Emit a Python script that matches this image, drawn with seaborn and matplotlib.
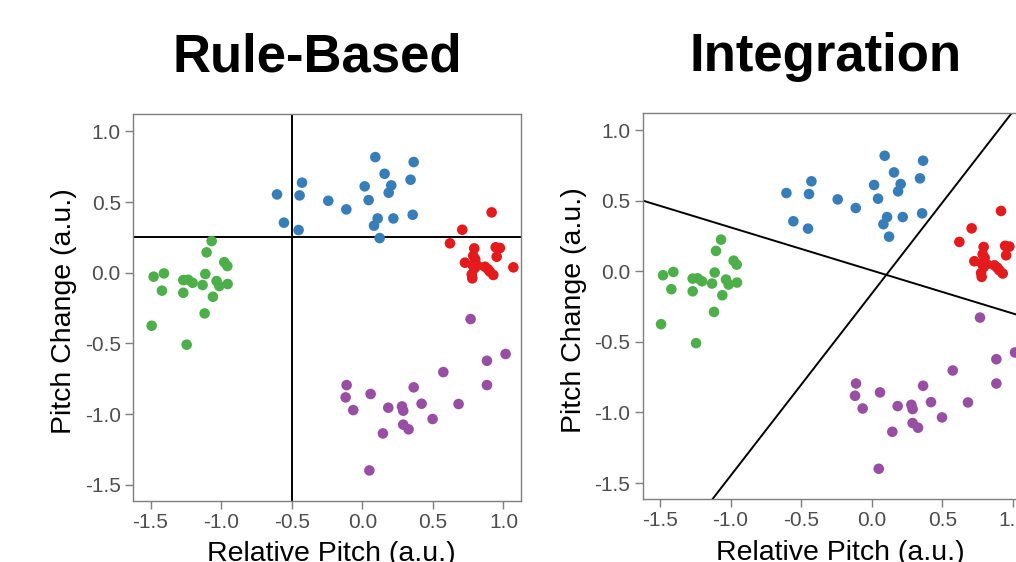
import matplotlib
matplotlib.use("Agg")
import matplotlib.pyplot as plt
import seaborn as sns
import pandas as pd

# ---------------- data ----------------
blue_x = [-0.604, -0.427, -0.444, -0.555, -0.451, -0.241, -0.113, 0.017, 0.045, 0.092,
          0.158, 0.205, 0.187, 0.109, 0.083, 0.123, 0.220, 0.364, 0.342, 0.357]
blue_y = [0.554, 0.637, 0.547, 0.354, 0.302, 0.509, 0.448, 0.611, 0.514, 0.818,
          0.700, 0.618, 0.566, 0.384, 0.333, 0.245, 0.384, 0.783, 0.658, 0.410]

red_x = [0.916, 0.708, 0.621, 0.793, 0.945, 0.975, 0.952, 0.786, 0.800, 0.727,
         0.781, 0.793, 0.815, 0.869, 0.890, 0.904, 0.928, 0.775, 0.779, 1.070]
red_y = [0.427, 0.304, 0.208, 0.172, 0.180, 0.175, 0.113, 0.120, 0.095, 0.071,
         0.054, 0.030, 0.050, 0.042, 0.025, 0.007, -0.016, -0.012, -0.040, 0.038]

green_x = [-1.067, -1.103, -0.978, -0.956, -1.478, -1.405, -1.419, -1.268, -1.233, -1.202,
           -1.268, -1.131, -1.112, -1.032, -1.013, -0.954, -1.058, -1.117, -1.492, -1.244]
green_y = [0.224, 0.144, 0.075, 0.047, -0.028, -0.005, -0.127, -0.052, -0.050, -0.071,
           -0.142, -0.087, -0.009, -0.059, -0.094, -0.080, -0.170, -0.288, -0.375, -0.509]

purple_x = [0.767, 1.015, 0.883, 0.883, 0.574, 0.682, 0.498, 0.364, 0.420, 0.281,
            0.290, 0.184, 0.059, -0.111, -0.118, -0.064, 0.146, 0.290, 0.328, 0.050]
purple_y = [-0.328, -0.575, -0.623, -0.795, -0.703, -0.929, -1.035, -0.811, -0.927, -0.946,
            -0.976, -0.955, -0.858, -0.795, -0.882, -0.972, -1.137, -1.075, -1.108, -1.399]

groups = ["blue", "red", "green", "purple"]
palette = {"blue": "#377EB8", "red": "#E41A1C", "green": "#4DAF4A", "purple": "#984EA3"}

ticks = [-1.5, -1.0, -0.5, 0.0, 0.5, 1.0]
tick_labels = ["-1.5", "-1.0", "-0.5", "0.0", "0.5", "1.0"]
titles = ["Rule-Based", "Integration"]
xlabel = "Relative Pitch (a.u.)"
ylabel = "Pitch Change (a.u.)"

# decision boundaries
rule_x = -0.5
rule_y = 0.25
int_line1 = (0.006, -0.305)   # intercept, slope
int_line2 = (-0.159, 1.29)

rows = []
for g, xs, ys in [("blue", blue_x, blue_y), ("red", red_x, red_y),
                  ("green", green_x, green_y), ("purple", purple_x, purple_y)]:
    for xv, yv in zip(xs, ys):
        rows.append({"x": xv, "y": yv, "group": g})
df = pd.DataFrame(rows)

# ---------------- style ----------------
sns.set_theme(style="white")
plt.rcParams["font.family"] = ["Liberation Sans", "DejaVu Sans"]
plt.rcParams["axes.unicode_minus"] = False

W, H = 1016, 562
fig = plt.figure(figsize=(W / 100, H / 100), dpi=100)

def px_axes(left, top, right, bottom):
    return fig.add_axes([left / W, 1 - bottom / H, (right - left) / W, (bottom - top) / H])

ax1 = px_axes(133.3, 114.0, 520.7, 500.7)
ax2 = px_axes(642.7, 112.7, 1030.1, 499.0)

for ax in (ax1, ax2):
    sns.scatterplot(data=df, x="x", y="y", hue="group", hue_order=groups, palette=palette,
                    s=58, linewidth=0, alpha=1, legend=False, ax=ax, zorder=3)
    ax.set_xlim(-1.622, 1.122)
    ax.set_ylim(-1.613, 1.123)
    ax.set_xticks(ticks)
    ax.set_xticklabels(tick_labels)
    ax.set_yticks(ticks)
    ax.set_yticklabels(tick_labels)
    ax.tick_params(axis="both", which="both", direction="out", length=6, width=1.0,
                   color="#7f7f7f", labelcolor="#4d4d4d", labelsize=15, pad=3,
                   bottom=True, left=True)
    for sp in ax.spines.values():
        sp.set_color("#7f7f7f")
        sp.set_linewidth(1.0)
    ax.set_xlabel(xlabel, fontsize=20.5, color="black")
    ax.set_ylabel(ylabel, fontsize=20.5, color="black")
    ax.xaxis.set_label_coords(0.51, -0.105)
    ax.yaxis.set_label_coords(-0.145, 0.49)
    ax.grid(False)

ax1.axvline(rule_x, color="black", lw=1.4, zorder=2)
ax1.axhline(rule_y, color="black", lw=1.4, zorder=2)

ax2.axline((0, int_line1[0]), slope=int_line1[1], color="black", lw=1.4, zorder=2)
ax2.axline((0, int_line2[0]), slope=int_line2[1], color="black", lw=1.4, zorder=2)

fig.text(317.8 / W, 1 - 71.5 / H, titles[0], ha="center", va="baseline",
         fontsize=38, fontweight="bold", color="black")
fig.text(826 / W, 1 - 71.5 / H, titles[1], ha="center", va="baseline",
         fontsize=38, fontweight="bold", color="black")

fig.savefig("out.png", dpi=100)
